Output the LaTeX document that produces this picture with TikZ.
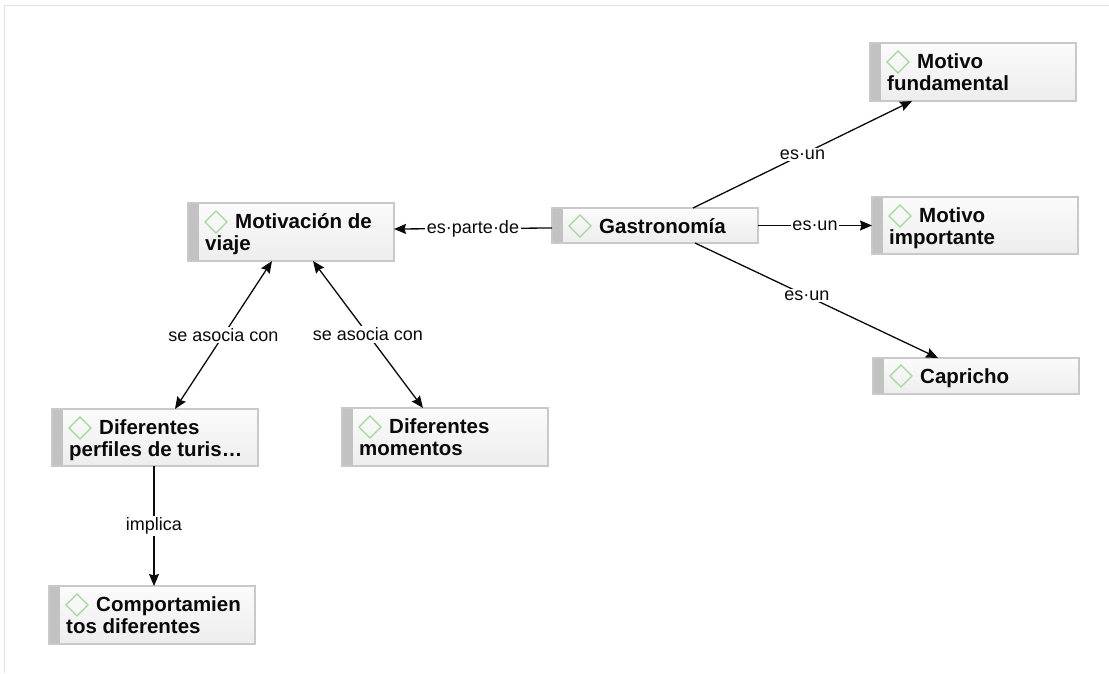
\documentclass[tikz,border=0pt]{standalone}
\usepackage{fontspec}
\setmainfont{Liberation Sans}
\usetikzlibrary{arrows.meta,calc}
\definecolor{boxborder}{HTML}{C9C9C9}
\definecolor{boxbar}{HTML}{C2C2C2}
\definecolor{boxtop}{HTML}{FBFBFB}
\definecolor{boxbot}{HTML}{EDEDED}
\definecolor{dmdgreen}{HTML}{A3D79B}
\definecolor{framegray}{HTML}{E2E2E2}
\definecolor{inkc}{HTML}{0A0A0A}
\tikzset{
  cbox/.style={draw=boxborder, line width=1.1pt, top color=boxtop, bottom color=boxbot,
    minimum width=206pt, inner sep=0pt, outer sep=0pt,
    path picture={\fill[boxbar] (path picture bounding box.north west) rectangle ([xshift=11pt]path picture bounding box.south west);}},
  dmdicon/.style={draw=dmdgreen, line width=1.1pt},
  ltxt/.style={font=\fontsize{20.5}{22}\selectfont\bfseries, text=inkc, inner sep=0pt},
  lbl/.style={font=\fontsize{18}{20}\selectfont, text=inkc, fill=white, inner sep=1.5pt},
  arr/.style={draw=inkc, line width=1.3pt, -{Stealth[length=12pt,width=10pt,inset=1.5pt]}},
  darr/.style={draw=inkc, line width=1.3pt, {Stealth[length=12pt,width=10pt,inset=1.5pt]}-{Stealth[length=12pt,width=10pt,inset=1.5pt]}}
}
\newcommand\cnodeTwo[6]{% name, x, y, height, line1, line2
  \node[cbox, minimum height=#4pt, anchor=north west] (#1) at (#2,#3) {};
  \draw[dmdicon] ($(#1.north west)+(28,-8)$) -- ++(11,-11) -- ++(-11,-11) -- ++(-11,11) -- cycle;
  \node[ltxt, anchor=base west] (#1-l1) at ($(#1.north west)+(47,-25)$) {#5};
  \node[ltxt, anchor=base west] (#1-l2) at ($(#1.north west)+(17,-47)$) {#6};
}
\newcommand\cnodeOne[5]{% name, x, y, height, line1
  \node[cbox, minimum height=#4pt, anchor=north west] (#1) at (#2,#3) {};
  \draw[dmdicon] ($(#1.north west)+(28,-7)$) -- ++(11,-11) -- ++(-11,-11) -- ++(-11,11) -- cycle;
  \node[ltxt, anchor=base west] (#1-l1) at ($(#1.north west)+(47,-25)$) {#5};
}
\begin{document}
\begin{tikzpicture}[x=1pt,y=1pt]
\useasboundingbox[fill=white] (0,0) rectangle (1109,-673);
\draw[framegray, line width=1pt] (4,-673) -- (4,-5) -- (1109,-5);

\cnodeTwo{mot}{188}{-203}{58}{Motivación de}{viaje}
\cnodeOne{gas}{552}{-208}{35}{Gastronomía}
\cnodeTwo{fund}{870}{-43}{58}{Motivo}{fundamental}
\cnodeTwo{imp}{872}{-197}{57}{Motivo}{importante}
\cnodeOne{cap}{873}{-358}{36}{Capricho}
\cnodeTwo{perf}{52}{-409}{57}{Diferentes}{perfiles de turis…}
\cnodeTwo{mom}{342}{-408}{58}{Diferentes}{momentos}
\cnodeTwo{comp}{49}{-586}{58}{Comportamien}{tos diferentes}

\draw[arr] ([yshift=-2.5pt]gas.west) -- node[lbl]{es·parte·de} ([yshift=3pt]mot.east);
\draw[arr] ([xshift=141pt]gas.north west) -- node[lbl]{es·un} ([xshift=42pt]fund.south west);
\draw[arr] (gas.east) -- node[lbl]{es·un} (imp.west);
\draw[arr] ([xshift=143pt]gas.south west) -- node[lbl, pos=0.46]{es·un} ([xshift=65pt]cap.north west);
\draw[darr] ([xshift=84pt]mot.south west) -- node[lbl]{se asocia con} ([xshift=123pt]perf.north west);
\draw[darr] ([xshift=125pt]mot.south west) -- node[lbl]{se asocia con} ([xshift=81pt]mom.north west);
\draw[arr] ([xshift=102pt]perf.south west) -- node[lbl]{implica} ([xshift=105pt]comp.north west);
\end{tikzpicture}
\end{document}
